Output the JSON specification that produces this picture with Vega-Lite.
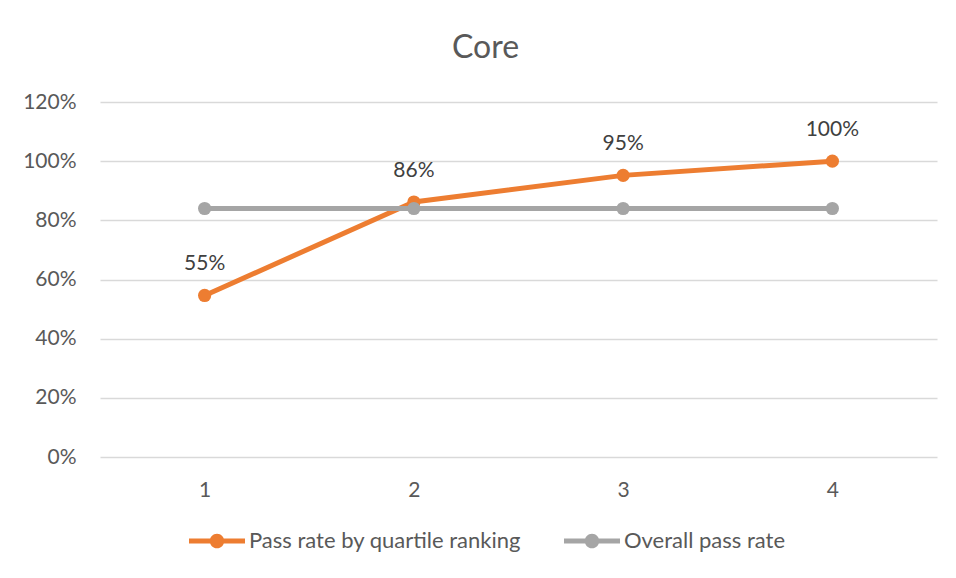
{
  "$schema": "https://vega.github.io/schema/vega-lite/v6.json",
  "width": 837,
  "height": 355,
  "autosize": {"type": "none"},
  "padding": {"left": 100, "top": 102, "right": 19, "bottom": 121},
  "background": "#ffffff",
  "config": {"view": {"stroke": null}},
  "title": {
    "text": "Core",
    "font": "Lato",
    "fontSize": 32,
    "fontWeight": "normal",
    "color": "#595959",
    "anchor": "middle",
    "baseline": "alphabetic",
    "offset": 1,
    "dx": -33
  },
  "data": {
    "values": [
      {"q": "1", "series": "Pass rate by quartile ranking", "rate": 0.546},
      {"q": "2", "series": "Pass rate by quartile ranking", "rate": 0.862},
      {"q": "3", "series": "Pass rate by quartile ranking", "rate": 0.952},
      {"q": "4", "series": "Pass rate by quartile ranking", "rate": 1.0},
      {"q": "1", "series": "Overall pass rate", "rate": 0.84},
      {"q": "2", "series": "Overall pass rate", "rate": 0.84},
      {"q": "3", "series": "Overall pass rate", "rate": 0.84},
      {"q": "4", "series": "Overall pass rate", "rate": 0.84}
    ]
  },
  "encoding": {
    "x": {
      "field": "q",
      "type": "ordinal",
      "scale": {"type": "point", "padding": 0.5},
      "axis": {
        "title": null,
        "labelAngle": 0,
        "domain": false,
        "ticks": false,
        "grid": false,
        "labelPadding": 22,
        "labelFont": "Lato",
        "labelFontSize": 21,
        "labelColor": "#595959"
      }
    },
    "y": {
      "field": "rate",
      "type": "quantitative",
      "scale": {"domain": [0, 1.2], "nice": false, "zero": true},
      "axis": {
        "title": null,
        "values": [0, 0.2, 0.4, 0.6, 0.8, 1.0, 1.2],
        "format": ".0%",
        "domain": false,
        "ticks": false,
        "grid": true,
        "gridColor": "#D9D9D9",
        "gridWidth": 1.3,
        "labelPadding": 24,
        "labelFont": "Lato",
        "labelFontSize": 21,
        "labelColor": "#595959"
      }
    },
    "color": {
      "field": "series",
      "type": "nominal",
      "scale": {
        "domain": ["Pass rate by quartile ranking", "Overall pass rate"],
        "range": ["#ED7D31", "#A5A5A5"]
      },
      "legend": {
        "title": null,
        "orient": "none",
        "direction": "horizontal",
        "legendX": 89,
        "legendY": 411,
        "padding": 0,
        "symbolType": "M-1,-0.09L1,-0.09L1,0.09L-1,0.09Z M0.26,0A0.26,0.26 0 1 1 -0.26,0A0.26,0.26 0 1 1 0.26,0Z",
        "symbolSize": 3136,
        "symbolStrokeWidth": 0,
        "labelOffset": 4,
        "labelLimit": 0,
        "columnPadding": 43,
        "labelFont": "Lato",
        "labelFontSize": 22,
        "labelColor": "#595959",
        "encode": {
          "symbols": {
            "update": {
              "fill": {"scale": "color", "field": "value"},
              "fillOpacity": {"value": 1},
              "strokeWidth": {"value": 0}
            }
          }
        }
      }
    }
  },
  "layer": [
    {
      "transform": [{"filter": "datum.series === 'Pass rate by quartile ranking'"}],
      "mark": {"type": "line", "strokeWidth": 5, "point": {"filled": true, "size": 175, "opacity": 1}}
    },
    {
      "transform": [{"filter": "datum.series === 'Overall pass rate'"}],
      "mark": {"type": "line", "strokeWidth": 5, "point": {"filled": true, "size": 175, "opacity": 1}}
    },
    {
      "transform": [{"filter": "datum.series === 'Pass rate by quartile ranking'"}],
      "mark": {"type": "text", "baseline": "alphabetic", "dy": -25, "font": "Lato", "fontSize": 21, "color": "#404040"},
      "encoding": {
        "text": {"field": "rate", "type": "quantitative", "format": ".0%"},
        "color": {"value": "#404040"}
      }
    }
  ]
}
